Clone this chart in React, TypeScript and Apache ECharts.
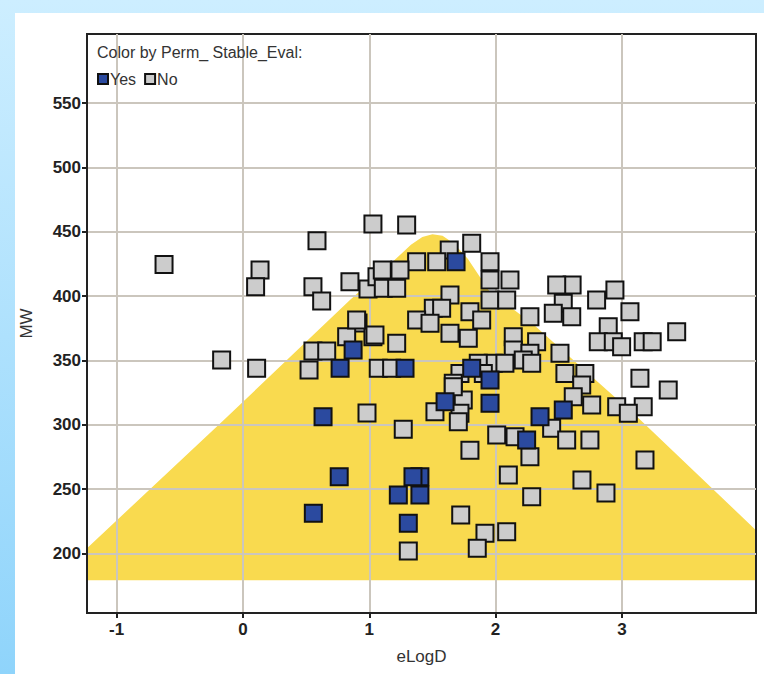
import React, { useEffect, useRef } from "react";
import * as echarts from "echarts";

const xTicks = [-1, 0, 1, 2, 3];
const yTicks = [200, 250, 300, 350, 400, 450, 500, 550];

// Perm_Stable_Eval = Yes
const yesPoints: [number, number][] = [
  [1.687, 426.7], [0.872, 358], [0.769, 344], [1.283, 343.9], [0.634, 306.2],
  [1.811, 343.9], [1.956, 334.8], [1.6, 317.9], [1.956, 316.6], [2.352, 306.2],
  [2.536, 311.4], [2.246, 288.1], [0.762, 259.6], [1.401, 259.6], [1.346, 259.6],
  [1.23, 245.3], [1.401, 245.3], [0.557, 231.1], [1.309, 223.3],
];

// Perm_Stable_Eval = No
const noPoints: [number, number][] = [
  [-0.625, 424.5], [0.135, 420.3], [0.1, 407.3], [0.586, 443.1], [0.554, 407.3],
  [0.623, 396.2], [0.847, 411.2], [0.99, 405.5], [1.061, 415.1], [1.029, 456.1],
  [-0.169, 350.3], [0.108, 343.9], [0.523, 342.5], [0.554, 357.3], [0.663, 357.3],
  [0.911, 379.1], [0.821, 368.4], [1.029, 368.4], [0.982, 309.1], [1.296, 455.3],
  [1.633, 435.8], [1.811, 441.1], [1.534, 426.7], [1.375, 426.7], [1.956, 426.7],
  [2.114, 412.5], [1.956, 412.5], [1.103, 420.3], [1.243, 420.3], [1.111, 406.1],
  [1.217, 406.1], [1.639, 400.9], [1.956, 397], [2.088, 397], [2.272, 384],
  [1.507, 390.5], [1.573, 390.5], [1.797, 387.9], [1.89, 381.4], [1.375, 381.4],
  [1.481, 378.8], [1.639, 371.1], [1.784, 367.2], [2.14, 368.4], [2.325, 364.5],
  [0.9, 381.4], [1.045, 369.8], [1.217, 363.3], [2.14, 358.1], [2.272, 355.5],
  [1.982, 347.7], [2.074, 347.7], [2.219, 350.3], [1.863, 347.7], [1.903, 339.9],
  [1.718, 339.9], [1.665, 332.2], [1.744, 319.2], [1.071, 343.9], [1.177, 343.9],
  [1.52, 310.1], [1.718, 308.9], [2.606, 408.6], [2.536, 394.4], [2.603, 384],
  [2.457, 386.6], [2.8, 397], [2.945, 404.7], [3.064, 387.9], [2.892, 376.2],
  [2.813, 364.5], [2.932, 364.5], [2.998, 360.7], [3.169, 364.5], [3.434, 372.3],
  [2.51, 355.5], [2.286, 347.7], [2.549, 339.9], [2.707, 339.9], [2.682, 330.9],
  [3.143, 336.1], [3.367, 327], [2.761, 315.3], [2.959, 314], [3.169, 314],
  [3.051, 308.9], [2.444, 297.2], [2.563, 288.1], [2.747, 288.1], [2.615, 321.8],
  [1.269, 296.4], [1.665, 329.6], [1.705, 302.3], [1.797, 280.2], [2.009, 292],
  [2.154, 290.7], [2.272, 275.1], [2.101, 260.9], [2.286, 244], [1.309, 201.8],
  [1.724, 229.8], [1.916, 215.6], [2.088, 216.8], [1.855, 203.9], [3.183, 272.5],
  [2.874, 246.9], [2.684, 257], [2.484, 408.6], [3.24, 364.5],
];

// Shaded (yellow) zone outline, in data units
const zonePolygon: [number, number][] = [
  [-1.235, 179], [-1.235, 204], [-0.158, 303], [0.847, 397], [1.2, 428],
  [1.33, 440], [1.42, 446], [1.5, 448], [1.58, 447], [1.67, 441], [1.78, 429],
  [1.95, 404], [2.3, 378], [3.143, 304], [4.062, 218], [4.062, 179],
];

const X_MIN = -1.235;
const X_MAX = 4.062;
const Y_MIN = 153.6;
const Y_MAX = 603.8;

const FONT = "'Liberation Sans', Arial, sans-serif";

export default function App() {
  const ref = useRef<HTMLDivElement>(null);

  useEffect(() => {
    if (!ref.current) return;
    const chart = echarts.init(ref.current, undefined, { renderer: "svg" });
    const squareStyle = (color: string) => ({
      color,
      borderColor: "#111",
      borderWidth: 2,
      opacity: 1,
    });
    chart.setOption({
      animation: false,
      backgroundColor: "transparent",
      textStyle: { fontFamily: FONT },
      title: {
        text: "Color by Perm_ Stable_Eval:",
        left: 97,
        top: 44,
        padding: 0,
        textStyle: { fontFamily: FONT, fontSize: 16, fontWeight: "normal", color: "#333" },
      },
      legend: {
        data: ["Yes", "No"],
        left: 97,
        top: 71,
        padding: 0,
        icon: "rect",
        itemWidth: 10,
        itemHeight: 10,
        itemGap: 8,
        selectedMode: false,
        textStyle: { fontFamily: FONT, fontSize: 16, color: "#333", padding: [0, 0, 0, -3] },
      },
      grid: {
        left: 87,
        right: 8,
        top: 34,
        bottom: 61,
        show: true,
        borderColor: "#222",
        borderWidth: 2,
        backgroundColor: "transparent",
      },
      xAxis: {
        type: "value",
        min: X_MIN,
        max: X_MAX,
        name: "eLogD",
        nameLocation: "middle",
        nameGap: 35,
        nameTextStyle: { fontFamily: FONT, fontSize: 17, color: "#333" },
        axisLine: { show: true, onZero: false, lineStyle: { color: "#222", width: 2 } },
        axisTick: { show: true, length: 5, inside: false, customValues: xTicks, lineStyle: { color: "#222", width: 2 } },
        axisLabel: { customValues: xTicks, fontFamily: FONT, fontSize: 17, fontWeight: "bold", color: "#222", margin: 8 },
        splitLine: { show: true, lineStyle: { color: "#cbc6bd", width: 2 } },
      },
      yAxis: {
        type: "value",
        min: Y_MIN,
        max: Y_MAX,
        name: "MW",
        nameLocation: "middle",
        nameGap: 52,
        nameTextStyle: { fontFamily: FONT, fontSize: 17, color: "#333" },
        axisLine: { show: true, onZero: false, lineStyle: { color: "#222", width: 2 } },
        axisTick: { show: true, length: 5, inside: false, customValues: yTicks, lineStyle: { color: "#222", width: 2 } },
        axisLabel: { customValues: yTicks, fontFamily: FONT, fontSize: 17, fontWeight: "bold", color: "#222", margin: 6 },
        splitLine: { show: true, lineStyle: { color: "#cbc6bd", width: 2 } },
      },
      series: [
        {
          type: "custom",
          name: "zone",
          z: -1,
          silent: true,
          clip: true,
          data: [zonePolygon[0]],
          renderItem: (_params: any, api: any) => ({
            type: "polygon",
            shape: { points: zonePolygon.map((p) => api.coord(p)) },
            style: { fill: "#f9da4f" },
          }),
        },
        {
          type: "scatter",
          name: "No",
          symbol: "rect",
          symbolSize: 17,
          data: noPoints,
          itemStyle: squareStyle("#cccccc"),
          emphasis: { disabled: true },
        },
        {
          type: "scatter",
          name: "Yes",
          symbol: "rect",
          symbolSize: 17,
          data: yesPoints,
          itemStyle: squareStyle("#2b4a9f"),
          emphasis: { disabled: true },
        },
      ],
    });
    return () => chart.dispose();
  }, []);

  return (
    <div
      style={{
        position: "fixed",
        left: 0,
        top: 0,
        width: 764,
        height: 674,
        background: "linear-gradient(to bottom, #cdeeff, #8fd4fb)",
      }}
    >
      <div style={{ position: "absolute", left: 15, top: 13, right: 0, bottom: 0, background: "#ffffff" }} />
      <div ref={ref} style={{ position: "absolute", left: 0, top: 0, width: 764, height: 674 }} />
    </div>
  );
}
